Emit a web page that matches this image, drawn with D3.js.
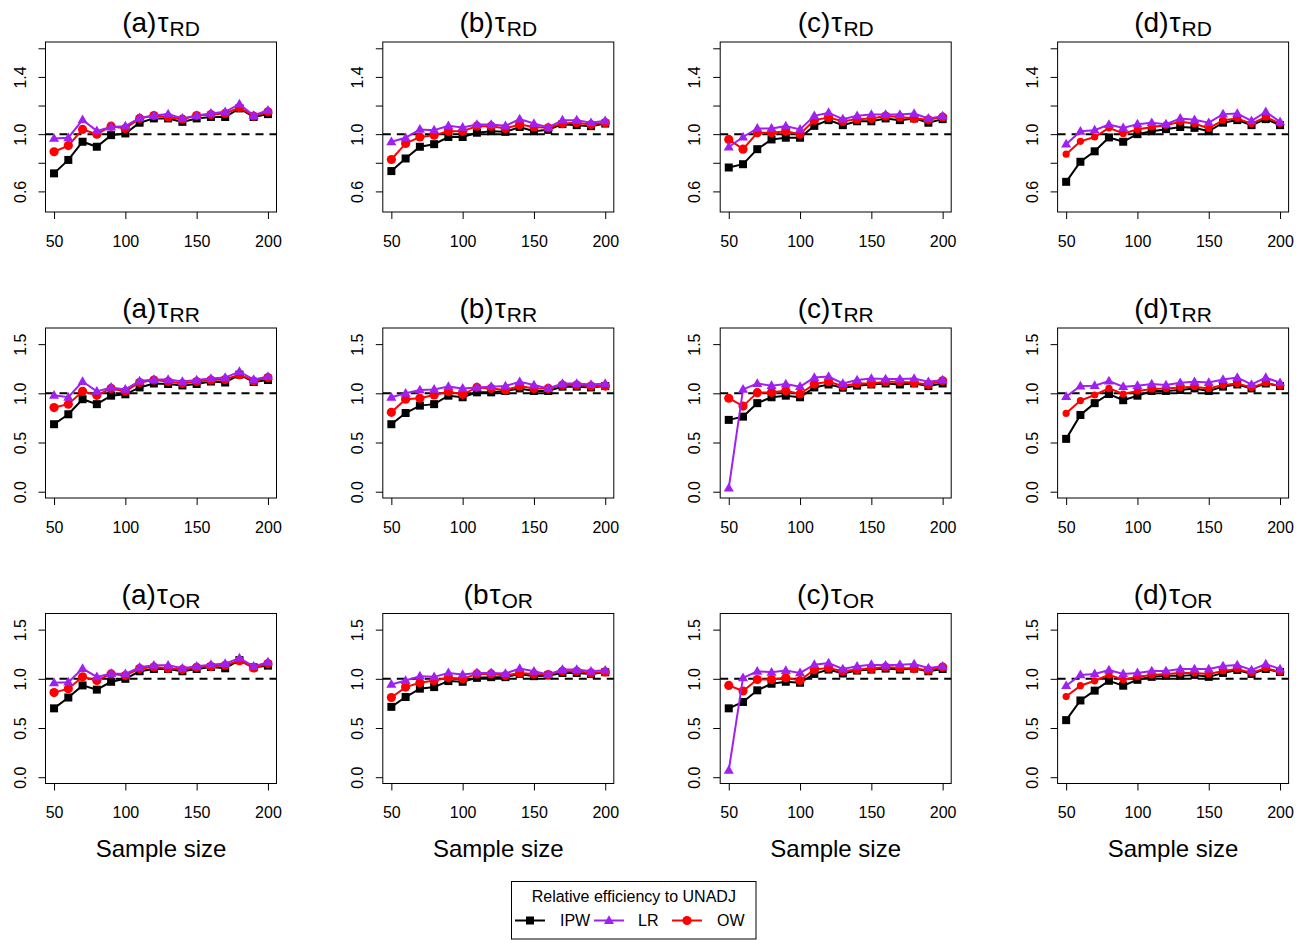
<!DOCTYPE html>
<html>
<head>
<meta charset="utf-8">
<script src="https://cdn.jsdelivr.net/npm/d3@7"></script>
<style>
  body { margin: 0; background: #fff; }
  text { font-family: "Liberation Sans", Arial, sans-serif; }
</style>
</head>
<body>
<div id="chart-area"></div>
<script>
// sample sizes on the x axis
let sampleSizes = [50, 60, 70, 80, 90, 100, 110, 120, 130, 140, 150, 160, 170, 180, 190, 200];

let estimands = ["RD", "RR", "OR"];
let titlePrefix = [
    ["(a)", "(b)", "(c)", "(d)"],
    ["(a)", "(b)", "(c)", "(d)"],
    ["(a)", "(b", "(c)", "(d)"]
];

// one row per scenario (a)-(d)
let ipwRD = [
    [0.726, 0.82, 0.947, 0.912, 0.993, 1.005, 1.08, 1.11, 1.11, 1.086, 1.11, 1.12, 1.12, 1.18, 1.12, 1.14],
    [0.742, 0.83, 0.912, 0.93, 0.98, 0.98, 1.01, 1.02, 1.016, 1.05, 1.02, 1.03, 1.07, 1.063, 1.056, 1.074],
    [0.767, 0.79, 0.895, 0.963, 0.975, 0.975, 1.058, 1.098, 1.063, 1.09, 1.09, 1.11, 1.098, 1.11, 1.08, 1.105],
    [0.667, 0.807, 0.88, 0.977, 0.947, 1.0, 1.02, 1.035, 1.05, 1.044, 1.02, 1.08, 1.098, 1.063, 1.105, 1.063]
];
let owRD = [
    [0.877, 0.92, 1.033, 1.0, 1.056, 1.04, 1.11, 1.13, 1.12, 1.105, 1.13, 1.137, 1.145, 1.186, 1.126, 1.156],
    [0.823, 0.935, 0.98, 0.993, 1.02, 1.02, 1.056, 1.056, 1.04, 1.067, 1.05, 1.044, 1.074, 1.08, 1.067, 1.08],
    [0.963, 0.895, 1.01, 1.01, 1.02, 1.0, 1.098, 1.116, 1.09, 1.105, 1.11, 1.126, 1.12, 1.11, 1.10, 1.12],
    [0.86, 0.95, 0.98, 1.044, 1.005, 1.033, 1.05, 1.063, 1.086, 1.074, 1.04, 1.098, 1.11, 1.074, 1.12, 1.074]
];
let lrRD = [
    [0.97, 0.975, 1.10, 1.023, 1.05, 1.056, 1.114, 1.13, 1.14, 1.11, 1.13, 1.145, 1.156, 1.21, 1.13, 1.167],
    [0.947, 0.975, 1.033, 1.028, 1.058, 1.047, 1.067, 1.067, 1.058, 1.105, 1.074, 1.047, 1.098, 1.098, 1.08, 1.093],
    [0.91, 0.98, 1.04, 1.04, 1.056, 1.033, 1.128, 1.15, 1.105, 1.128, 1.137, 1.137, 1.137, 1.144, 1.11, 1.126],
    [0.93, 1.02, 1.028, 1.067, 1.044, 1.07, 1.08, 1.07, 1.11, 1.10, 1.08, 1.14, 1.144, 1.093, 1.156, 1.086]
];
let ipwRR = [
    [0.686, 0.787, 0.94, 0.89, 0.976, 0.99, 1.06, 1.10, 1.095, 1.08, 1.095, 1.12, 1.11, 1.19, 1.115, 1.135],
    [0.686, 0.80, 0.875, 0.89, 0.976, 0.96, 1.01, 1.01, 1.024, 1.05, 1.024, 1.024, 1.068, 1.068, 1.06, 1.074],
    [0.73, 0.763, 0.90, 0.96, 0.976, 0.96, 1.06, 1.09, 1.057, 1.078, 1.09, 1.10, 1.09, 1.10, 1.074, 1.10],
    [0.537, 0.78, 0.90, 0.993, 0.93, 0.976, 1.024, 1.024, 1.034, 1.05, 1.024, 1.068, 1.09, 1.05, 1.10, 1.074]
];
let owRR = [
    [0.855, 0.89, 1.02, 0.98, 1.05, 1.02, 1.11, 1.135, 1.12, 1.10, 1.12, 1.135, 1.14, 1.19, 1.125, 1.16],
    [0.807, 0.94, 0.95, 0.983, 1.017, 0.99, 1.06, 1.05, 1.034, 1.074, 1.05, 1.05, 1.084, 1.084, 1.074, 1.074],
    [0.95, 0.87, 1.007, 1.01, 1.027, 0.993, 1.095, 1.118, 1.074, 1.10, 1.10, 1.118, 1.118, 1.108, 1.09, 1.128],
    [0.797, 0.926, 0.983, 1.05, 0.993, 1.024, 1.044, 1.05, 1.06, 1.068, 1.05, 1.084, 1.10, 1.06, 1.108, 1.074]
];
let lrRR = [
    [0.98, 0.96, 1.12, 1.02, 1.06, 1.04, 1.125, 1.14, 1.14, 1.12, 1.135, 1.15, 1.16, 1.22, 1.14, 1.17],
    [0.96, 1.0, 1.034, 1.04, 1.068, 1.05, 1.06, 1.068, 1.074, 1.118, 1.084, 1.05, 1.10, 1.10, 1.09, 1.10],
    [0.037, 1.04, 1.10, 1.078, 1.095, 1.068, 1.16, 1.17, 1.10, 1.135, 1.15, 1.145, 1.145, 1.15, 1.118, 1.135],
    [0.966, 1.074, 1.078, 1.125, 1.068, 1.078, 1.095, 1.084, 1.108, 1.118, 1.11, 1.14, 1.16, 1.09, 1.16, 1.108]
];
let ipwOR = [
    [0.70, 0.81, 0.933, 0.89, 0.97, 1.0, 1.077, 1.10, 1.10, 1.077, 1.10, 1.12, 1.107, 1.19, 1.117, 1.134],
    [0.715, 0.815, 0.90, 0.916, 0.977, 0.97, 1.01, 1.017, 1.017, 1.05, 1.027, 1.034, 1.06, 1.06, 1.05, 1.067],
    [0.70, 0.765, 0.883, 0.95, 0.97, 0.96, 1.05, 1.094, 1.054, 1.084, 1.094, 1.104, 1.094, 1.104, 1.077, 1.10],
    [0.58, 0.78, 0.88, 0.98, 0.93, 0.99, 1.02, 1.03, 1.03, 1.04, 1.02, 1.06, 1.09, 1.05, 1.10, 1.07]
];
let owOR = [
    [0.86, 0.90, 1.02, 0.983, 1.05, 1.034, 1.104, 1.12, 1.107, 1.094, 1.117, 1.127, 1.138, 1.185, 1.11, 1.155],
    [0.81, 0.916, 0.96, 0.983, 1.01, 1.0, 1.05, 1.05, 1.034, 1.06, 1.05, 1.044, 1.077, 1.077, 1.06, 1.07],
    [0.933, 0.876, 0.993, 0.993, 1.01, 0.983, 1.094, 1.11, 1.077, 1.094, 1.104, 1.12, 1.11, 1.104, 1.087, 1.12],
    [0.82, 0.93, 0.98, 1.04, 0.99, 1.02, 1.04, 1.05, 1.06, 1.06, 1.05, 1.08, 1.10, 1.06, 1.11, 1.07]
];
let lrOR = [
    [0.96, 0.966, 1.104, 1.02, 1.054, 1.05, 1.117, 1.138, 1.138, 1.107, 1.127, 1.144, 1.155, 1.21, 1.127, 1.17],
    [0.943, 0.983, 1.027, 1.02, 1.06, 1.044, 1.06, 1.06, 1.054, 1.104, 1.077, 1.044, 1.094, 1.094, 1.077, 1.087],
    [0.07, 1.01, 1.077, 1.067, 1.084, 1.06, 1.144, 1.16, 1.10, 1.127, 1.144, 1.138, 1.144, 1.15, 1.11, 1.127],
    [0.93, 1.04, 1.05, 1.09, 1.05, 1.06, 1.08, 1.08, 1.10, 1.10, 1.10, 1.13, 1.14, 1.09, 1.15, 1.10]
];

let ipwRows = [ipwRD, ipwRR, ipwOR];
let owRows = [owRD, owRR, owOR];
let lrRows = [lrRD, lrRR, lrOR];

// y limits, tick marks and labelled ticks per row
let yLimits = [[0.5, 1.6], [0, 1.6], [0, 1.6]];
let yTicks = [[0.6, 0.8, 1.0, 1.2, 1.4, 1.6], [0, 0.5, 1.0, 1.5], [0, 0.5, 1.0, 1.5]];
let yLabelled = [[0.6, 1.0, 1.4], [0, 0.5, 1.0, 1.5], [0, 0.5, 1.0, 1.5]];
let xTicks = [50, 100, 150, 200];

let legendNames = ["IPW", "LR", "OW"];

let colIPW = "black", colLR = "#A020F0", colOW = "#FF0000";

let svg = d3.select("#chart-area")
    .append("svg")
    .attr("width", 1309)
    .attr("height", 940);

let boxW = 231, boxH = 170;
let colLeft = [45.5, 382.8, 720.2, 1057.6];
let rowTop = [42, 328, 613.5];
let tickFont = "16px";

let tri = d3.symbol().type(d3.symbolTriangle).size(44);

function dashedAt1(g, x, y) {
    g.append("line")
        .attr("x1", x.range()[0]).attr("x2", x.range()[1])
        .attr("y1", y(1)).attr("y2", y(1))
        .attr("stroke", "black")
        .attr("stroke-width", 2)
        .attr("stroke-dasharray", "8,6");
}

function drawSeries(g, x, y, vals, col, shape, r) {
    let pts = sampleSizes.map(function(s, i) { return [s, vals[i]]; });
    g.append("path")
        .datum(pts)
        .attr("fill", "none")
        .attr("stroke", col)
        .attr("stroke-width", 2)
        .attr("d", d3.line()
            .x(function(d) { return x(d[0]); })
            .y(function(d) { return y(d[1]); }));
    let m = g.append("g").attr("fill", col);
    if (shape === "square") {
        m.selectAll("rect").data(pts).enter().append("rect")
            .attr("x", function(d) { return x(d[0]) - 4; })
            .attr("y", function(d) { return y(d[1]) - 4; })
            .attr("width", 8).attr("height", 8);
    } else if (shape === "circle") {
        m.selectAll("circle").data(pts).enter().append("circle")
            .attr("cx", function(d) { return x(d[0]); })
            .attr("cy", function(d) { return y(d[1]); })
            .attr("r", r);
    } else {
        m.selectAll("path").data(pts).enter().append("path")
            .attr("d", tri)
            .attr("transform", function(d) { return "translate(" + x(d[0]) + "," + (y(d[1]) + 0.5) + ")"; });
    }
}

estimands.forEach(function(est, r) {
    let lo = yLimits[r][0], hi = yLimits[r][1];
    let pad = (hi - lo) * 0.04;
    for (let c = 0; c < 4; c++) {
        let left = colLeft[c], top = rowTop[r];
        let x = d3.scaleLinear().domain([44, 206]).range([left, left + boxW]);
        let y = d3.scaleLinear().domain([lo - pad, hi + pad]).range([top + boxH, top]);
        let g = svg.append("g");

        // X Axis
        let xAxis = g.append("g")
            .attr("transform", "translate(0," + (top + boxH) + ")")
            .call(d3.axisBottom(x).tickValues(xTicks).tickSize(7).tickSizeOuter(0));
        xAxis.select(".domain").remove();
        xAxis.selectAll("line").attr("stroke-width", 1);
        xAxis.selectAll("text")
            .attr("y", 34.5).attr("dy", null)
            .attr("font-size", tickFont)
            .attr("font-family", "Liberation Sans, Arial, sans-serif")
            .attr("fill", "black");

        // Y Axis
        let yAxis = g.append("g")
            .attr("transform", "translate(" + left + ",0)")
            .call(d3.axisLeft(y).tickValues(yTicks[r]).tickSize(7).tickSizeOuter(0)
                .tickFormat(function(d) {
                    let show = yLabelled[r].some(function(v) { return Math.abs(v - d) < 1e-9; });
                    return show ? d3.format(".1f")(d) : "";
                }));
        yAxis.select(".domain").remove();
        yAxis.selectAll("text")
            .attr("transform", "rotate(-90)")
            .attr("x", 0).attr("y", -20).attr("dy", null)
            .attr("text-anchor", "middle")
            .attr("font-size", tickFont)
            .attr("font-family", "Liberation Sans, Arial, sans-serif")
            .attr("fill", "black");

        // box
        g.append("rect")
            .attr("x", left).attr("y", top)
            .attr("width", boxW).attr("height", boxH)
            .attr("fill", "none").attr("stroke", "black").attr("stroke-width", 1);

        dashedAt1(g, x, y);

        let circleR = c === 3 ? 3.6 : 4.6;
        drawSeries(g, x, y, ipwRows[r][c], colIPW, "square", 0);
        drawSeries(g, x, y, owRows[r][c], colOW, "circle", circleR);
        drawSeries(g, x, y, lrRows[r][c], colLR, "triangle", 0);

        // title
        let t = g.append("text")
            .attr("x", left + boxW / 2)
            .attr("y", top - 10)
            .attr("text-anchor", "middle")
            .attr("font-size", "28px");
        t.append("tspan").text(titlePrefix[r][c]);
        t.append("tspan").attr("dx", 1).text("\u03C4");
        t.append("tspan").attr("font-size", "21px").attr("dx", 1).attr("dy", 4).text(est);

        if (r === 2) {
            g.append("text")
                .attr("x", left + boxW / 2)
                .attr("y", top + boxH + 73)
                .attr("text-anchor", "middle")
                .attr("font-size", "24px")
                .text("Sample size");
        }
    }
});

// Legend
let legend = svg.append("g");
legend.append("rect")
    .attr("x", 511.5).attr("y", 881.5)
    .attr("width", 244.5).attr("height", 57.5)
    .attr("fill", "white").attr("stroke", "black").attr("stroke-width", 1);
legend.append("text")
    .attr("x", 633.8).attr("y", 901.5)
    .attr("text-anchor", "middle")
    .attr("font-size", "16px")
    .text("Relative efficiency to UNADJ");

let legX = [515, 594, 672];
let legCols = [colIPW, colLR, colOW];
let legShapes = ["square", "triangle", "circle"];
let legTextX = [560, 638, 717];
let legY = 920.5;
legendNames.forEach(function(name, i) {
    legend.append("line")
        .attr("x1", legX[i]).attr("x2", legX[i] + 30)
        .attr("y1", legY).attr("y2", legY)
        .attr("stroke", legCols[i]).attr("stroke-width", 2);
    let cx = legX[i] + 15;
    if (legShapes[i] === "square") {
        legend.append("rect").attr("x", cx - 4).attr("y", legY - 4)
            .attr("width", 8).attr("height", 8).attr("fill", legCols[i]);
    } else if (legShapes[i] === "circle") {
        legend.append("circle").attr("cx", cx).attr("cy", legY).attr("r", 4.6).attr("fill", legCols[i]);
    } else {
        legend.append("path").attr("d", tri)
            .attr("transform", "translate(" + cx + "," + (legY + 0.5) + ")")
            .attr("fill", legCols[i]);
    }
    legend.append("text")
        .attr("x", legTextX[i]).attr("y", legY + 5.5)
        .attr("font-size", "16px")
        .text(name);
});
</script>
</body>
</html>
